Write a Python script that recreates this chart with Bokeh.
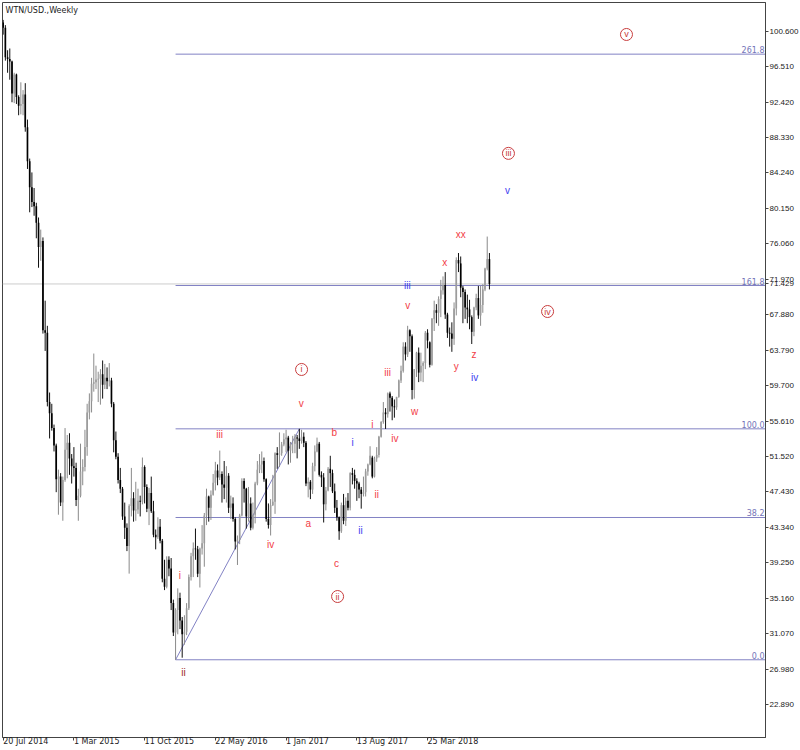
from bokeh.plotting import figure
from bokeh.models import ColumnDataSource, Range1d, FixedTicker, Label, NumeralTickFormatter
from bokeh.core.properties import value
from bokeh.embed import file_html
from bokeh.resources import INLINE

# ---- weekly OHLC (WTN/USD), week 0 = 20 Jul 2014 ----
opens = [101.6,101.0,97.6,97.4,97.1,93.4,95.6,93.0,92.0,92.2,93.3,89.5,85.6,82.6,80.9,80.4,78.5,75.7,76.4,66.1,
         65.8,57.8,56.5,54.8,52.8,48.9,49.2,46.2,48.8,52.3,53.1,51.3,50.4,50.2,46.5,47.0,49.8,50.3,52.6,56.6,
         57.9,59.9,60.1,60.4,60.5,61.0,59.8,60.6,60.2,60.3,57.6,53.4,51.5,48.8,47.8,44.6,43.3,41.2,45.8,46.7,
         45.3,45.4,46.4,46.3,50.3,48.0,45.5,47.3,45.2,42.5,42.2,43.4,41.8,37.4,36.5,39.6,38.6,34.6,31.2,33.8,
         35.2,32.6,31.0,31.3,34.0,37.6,40.0,40.9,40.8,38.0,40.9,41.5,44.7,46.9,45.6,47.1,48.5,49.9,49.1,49.5,
         48.3,47.9,49.3,45.6,46.1,44.3,41.7,41.9,44.7,48.7,47.8,44.6,46.1,43.3,44.8,48.4,50.0,50.6,51.0,48.9,
         44.3,43.6,45.9,46.3,51.9,51.7,51.9,52.9,53.5,53.7,52.2,53.0,53.0,53.7,53.6,53.3,53.8,53.1,48.4,48.6,
         47.7,50.4,52.1,53.0,49.4,49.1,46.0,47.6,50.1,49.6,47.5,45.6,44.5,42.9,45.9,44.1,46.4,45.6,49.6,49.4,
         48.7,48.4,47.7,47.2,47.4,49.8,50.6,51.4,49.2,51.3,51.7,53.8,55.5,56.6,56.4,58.8,58.3,57.3,57.2,58.4,
         60.3,61.4,64.2,63.3,66.1,65.4,59.2,61.6,63.5,61.2,62.0,62.3,65.8,64.7,62.1,67.4,68.4,68.1,69.7,70.7,
         71.3,67.9,65.8,65.7,65.1,68.6,74.2,73.8,71.0,70.5,68.7,68.5,67.6,65.9,68.7,69.8,67.8,69.0,70.8,73.2,
         74.3]
highs = [101.9,101.3,98.4,98.6,97.2,95.8,95.7,93.2,94.7,93.8,94.6,90.4,85.9,84.3,82.5,80.8,79.1,77.7,76.8,69.5,
         66.6,58.9,57.6,55.2,53.0,50.0,49.6,49.2,54.8,54.0,54.2,51.8,52.6,50.8,47.8,53.0,51.2,54.6,57.6,58.8,
         60.6,63.4,62.0,61.3,61.6,62.6,62.2,61.8,62.3,60.6,57.8,54.4,51.9,50.2,48.0,46.2,43.8,46.0,50.2,47.4,
         48.6,47.8,47.0,51.4,50.5,48.3,47.9,49.2,46.4,43.1,44.5,44.3,42.0,39.6,40.0,40.0,39.8,35.0,34.0,36.3,
         35.8,33.0,33.2,34.6,37.9,40.4,41.6,43.2,41.2,41.0,43.6,45.0,47.8,47.0,47.6,49.5,50.9,50.6,52.2,49.8,
         51.0,50.4,49.6,47.0,46.8,44.5,42.4,44.9,49.0,49.0,47.9,48.0,46.8,46.2,48.6,51.0,51.8,52.1,51.4,49.0,
         46.1,46.6,49.4,52.0,52.6,54.3,53.2,54.2,54.6,53.9,53.2,53.9,54.1,54.0,54.71,54.6,54.3,53.3,49.1,48.8,
         50.8,52.8,53.7,53.2,49.8,49.6,48.0,50.3,51.6,50.0,48.4,46.5,44.6,46.2,47.2,46.8,47.3,49.7,50.2,50.0,
         49.0,48.6,48.0,49.2,50.1,50.7,52.7,51.6,51.5,52.6,53.9,55.6,57.8,57.1,58.9,59.0,58.5,58.1,58.4,60.4,
         62.0,64.7,64.7,66.6,66.2,65.6,61.6,63.6,64.1,63.5,62.5,66.0,66.2,64.8,67.5,69.5,69.1,70.0,71.9,72.3,
         72.8,68.1,66.4,67.0,69.3,74.5,75.0,74.6,71.2,70.8,70.2,69.6,67.8,68.8,70.3,71.2,71.2,71.4,73.3,76.9,
         75.0]
lows = [100.2,97.2,95.8,95.0,92.4,92.3,92.2,90.9,91.0,90.9,89.0,84.7,79.7,80.3,79.3,76.7,73.3,74.1,65.7,63.7,
        57.3,53.6,54.5,52.1,47.4,44.8,45.8,44.1,48.6,49.0,49.4,48.4,49.2,45.8,44.1,46.8,48.2,49.8,51.6,55.8,
        56.6,59.0,59.3,57.8,57.5,58.2,59.3,59.3,59.6,57.2,52.0,51.2,48.4,47.3,44.2,42.0,40.6,38.0,44.6,44.0,
        44.1,44.9,44.6,46.0,46.1,45.1,43.6,45.0,42.2,40.8,42.0,41.5,37.0,36.1,36.3,37.7,33.8,30.8,28.06,31.0,
        31.6,28.3,29.8,30.9,33.8,37.2,37.6,39.6,37.6,36.4,40.2,38.8,43.6,44.0,44.2,47.0,47.6,48.2,48.8,46.2,
        46.6,46.2,45.0,44.3,44.0,40.8,39.0,41.4,44.6,46.2,43.2,44.0,43.0,43.1,43.8,48.2,49.6,49.6,48.6,44.0,
        43.2,42.4,45.8,44.9,50.1,50.3,51.6,52.7,52.0,50.6,50.8,51.9,51.9,51.3,52.4,53.0,52.6,48.1,46.8,46.6,
        47.2,49.8,52.0,49.2,48.0,43.9,45.3,47.5,48.0,47.3,45.0,44.1,41.9,42.7,43.7,43.5,45.3,45.3,48.3,47.8,
        46.4,46.7,45.5,46.9,46.9,49.3,50.5,49.0,49.1,50.9,51.4,53.7,55.3,54.7,56.0,56.7,55.7,56.0,56.9,58.3,
        60.0,61.2,62.6,63.0,63.6,58.1,58.2,60.7,60.1,60.2,60.1,61.6,64.0,61.8,62.0,66.0,66.9,66.6,67.6,70.2,
        67.4,65.2,64.2,63.6,64.4,67.8,72.8,69.9,66.9,67.4,66.9,66.2,64.5,65.4,68.4,67.4,66.6,68.1,70.6,73.0,
        70.8]
closes = [101.0,97.6,97.4,97.1,93.4,95.6,93.0,92.0,92.2,93.3,89.5,85.6,82.6,80.9,80.4,78.5,75.7,76.4,66.1,65.8,
          57.8,56.5,54.8,52.8,48.9,49.2,46.2,48.8,52.3,53.1,51.3,50.4,50.2,46.5,47.0,49.8,50.3,52.6,56.6,57.9,
          59.9,60.1,60.4,60.5,61.0,59.8,60.6,60.2,60.3,57.6,53.4,51.5,48.8,47.8,44.6,43.3,41.2,45.8,46.7,45.3,
          45.4,46.4,46.3,50.3,48.0,45.5,47.3,45.2,42.5,42.2,43.4,41.8,37.4,36.5,39.6,38.6,34.6,31.2,33.8,35.2,
          32.6,31.0,31.3,34.0,37.6,40.0,40.9,40.8,38.0,40.9,41.5,44.7,46.9,45.6,47.1,48.5,49.9,49.1,49.5,48.3,
          47.9,49.3,45.6,46.1,44.3,41.7,41.9,44.7,48.7,47.8,44.6,46.1,43.3,44.8,48.4,50.0,50.6,51.0,48.9,44.3,
          43.6,45.9,46.3,51.9,51.7,51.9,52.9,53.5,53.7,52.2,53.0,53.0,53.7,53.6,53.3,53.8,53.1,48.4,48.6,47.7,
          50.4,52.1,53.0,49.4,49.1,46.0,47.6,50.1,49.6,47.5,45.6,44.5,42.9,45.9,44.1,46.4,45.6,49.6,49.4,48.7,
          48.4,47.7,47.2,47.4,49.8,50.6,51.6,49.2,51.3,51.7,53.8,55.5,56.6,56.4,58.8,58.3,57.3,57.2,58.4,60.3,
          61.4,64.2,63.3,66.1,65.4,59.2,61.6,63.5,61.2,62.0,62.3,65.8,64.9,62.1,67.4,68.4,68.1,69.7,70.7,71.3,
          67.9,65.8,65.7,65.1,68.6,74.2,73.8,71.0,70.5,68.7,68.5,67.6,65.9,68.7,69.8,67.8,69.0,70.8,73.2,74.3,
          71.43]

# ---- axes ----
date_ticks = [0, 32, 64, 96, 128, 160, 192]
date_labels = ["20 Jul 2014", "1 Mar 2015", "11 Oct 2015", "22 May 2016", "1 Jan 2017", "13 Aug 2017", "25 Mar 2018"]
price_ticks = [22.89, 26.98, 31.07, 35.16, 39.25, 43.34, 47.43, 51.52, 55.61, 59.70,
               63.79, 67.88, 71.97, 76.06, 80.15, 84.24, 88.33, 92.42, 96.51, 100.60]
last_price = 71.429

# ---- fibonacci expansion ----
fib_start = 78
fib_base = [78, 134]
fib_base_price = [28.06, 54.71]
fib_levels = ["0.0", "38.2", "100.0", "161.8", "261.8"]
fib_prices = [28.06, 44.48, 54.71, 71.25, 97.95]

# ---- wave labels (bar index, price) ----
red_text = ["iii", "i", "iv", "v", "a", "b", "c", "i", "ii", "iv", "iii", "v", "w", "x", "xx", "y", "z"]
red_x = [97.9, 79.9, 121.0, 134.9, 138.0, 149.8, 150.8, 167.0, 169.0, 177.2, 173.9, 183.0, 186.2, 199.8, 207.0, 205.0, 213.0]
red_y = [54.06, 37.77, 41.40, 57.67, 43.82, 54.32, 39.13, 55.17, 47.10, 53.63, 61.18, 68.94, 56.75, 73.94, 77.10, 61.90, 63.25]
blue_text = ["i", "ii", "iii", "iv", "v"]
blue_x = [158.1, 161.7, 182.9, 213.3, 228.2]
blue_y = [53.13, 42.98, 71.25, 60.63, 82.22]
brown_text = ["ii"]
brown_x = [81.6]
brown_y = [26.59]
circ_text = ["i", "ii", "iii", "iv", "v"]
circ_x = [135.0, 151.3, 228.6, 246.3, 282.0]
circ_y = [61.56, 35.36, 86.50, 68.25, 100.22]

n = len(closes)
idx = list(range(n))
up = [c >= o for o, c in zip(opens, closes)]
src = ColumnDataSource(dict(
    x=idx, o=opens, h=highs, l=lows, c=closes,
    top=[max(o, c) for o, c in zip(opens, closes)],
    bot=[min(o, c) for o, c in zip(opens, closes)],
    wcol=["#8a8a8a" if u else "#111111" for u in up],
    bcol=["#9c9c9c" if u else "#000000" for u in up],
))

X0, X1 = -0.3, 344.9
p = figure(frame_width=763, frame_height=735, output_backend="svg", toolbar_location=None,
           x_range=Range1d(X0, X1), y_range=Range1d(19.09, 103.91),
           y_axis_location="right", min_border_left=2, min_border_top=2,
           min_border_right=0, min_border_bottom=0, background_fill_color="white")
p.grid.visible = False
p.outline_line_color = "#444444"
p.outline_line_width = 1

for ax in (p.xaxis[0], p.yaxis[0]):
    ax.axis_line_color = "#444444"
    ax.major_tick_line_color = "#444444"
    ax.major_tick_in = 0
    ax.major_tick_out = 3
    ax.minor_tick_line_color = None
    ax.major_label_text_font_size = "8px"
    ax.major_label_text_color = "#222222"

p.yaxis.ticker = FixedTicker(ticks=price_ticks + [last_price])
p.yaxis.formatter = NumeralTickFormatter(format="0.000")
p.yaxis.major_label_standoff = 1
p.yaxis.major_label_text_font = "Liberation Sans"
p.xaxis.ticker = FixedTicker(ticks=date_ticks)
p.xaxis.major_label_overrides = {t: s for t, s in zip(date_ticks, date_labels)}
p.xaxis.major_label_standoff = 1
p.xaxis.major_label_text_font = "DejaVu Sans"
p.xaxis.major_label_orientation = -0.0001

# current price line
p.line([X0, X1], [last_price, last_price], line_color="#cccccc", line_width=1)

# fib levels and base line
p.segment(x0=[fib_start] * len(fib_prices), x1=[X1] * len(fib_prices), y0=fib_prices, y1=fib_prices,
          line_color="#8282c4", line_width=1)
p.line(fib_base, fib_base_price, line_color="#8282c4", line_width=1)
p.text(x=[X1] * len(fib_prices), y=fib_prices, text=fib_levels, text_align="right", text_baseline="bottom",
       x_offset=-1, y_offset=-1, text_font=value("DejaVu Sans"), text_font_size="8px", text_color="#7474b8")

# bars
p.segment(x0="x", x1="x", y0="l", y1="h", source=src, line_color="wcol", line_width=1)
p.vbar(x="x", width=0.75, top="top", bottom="bot", source=src, fill_color="bcol", line_color=None)

# wave labels
lab_font = value("Liberation Sans")
p.text(x=red_x, y=red_y, text=red_text, text_align="center", text_baseline="middle",
       text_font=lab_font, text_font_size="10px", text_color="#f23c46")
p.text(x=blue_x, y=blue_y, text=blue_text, text_align="center", text_baseline="middle",
       text_font=lab_font, text_font_size="10px", text_color="#3c3cf0")
p.text(x=brown_x, y=brown_y, text=brown_text, text_align="center", text_baseline="middle",
       text_font=lab_font, text_font_size="10px", text_color="#a02a22")
p.scatter(x=circ_x, y=circ_y, marker="circle", size=12, fill_color=None, line_color="#c83c3c", line_width=1)
p.text(x=circ_x, y=circ_y, text=circ_text, text_align="center", text_baseline="middle",
       text_font=lab_font, text_font_size="9px", text_color="#c83c3c")

# title
p.add_layout(Label(x=X0, y=103.91, x_offset=3, y_offset=-3, text="WTN/USD.,Weekly", text_baseline="top",
                   text_font="DejaVu Sans", text_font_size="8px", text_color="#222222"))

open("out.html", "w").write(file_html(p, INLINE))
